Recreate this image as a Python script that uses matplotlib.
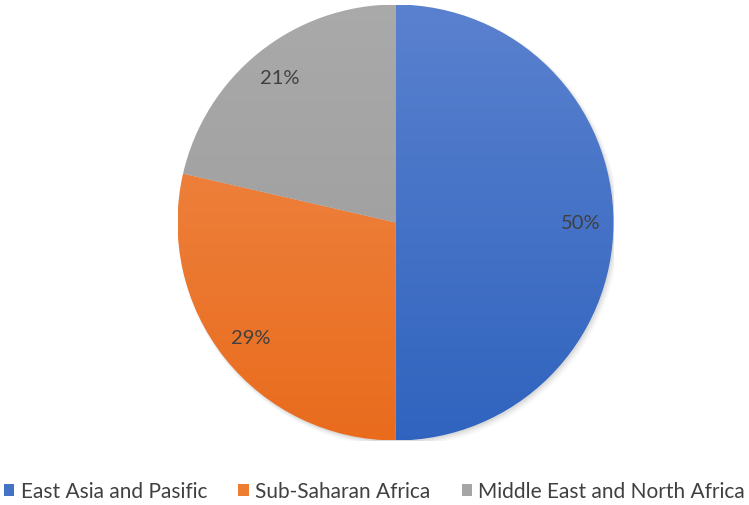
import numpy as np
import matplotlib.pyplot as plt
from matplotlib.colors import to_rgb
from matplotlib.patches import Patch

plt.rcParams['font.family'] = ['Lato', 'DejaVu Sans']

# データ
labels = ['East Asia and Pasific', 'Sub-Saharan Africa', 'Middle East and North Africa']
shares = [50, 28.6, 21.4]

# 色（上が明るく、下が暗いグラデーション）
top_colors = ['#5b82cf', '#f08c4e', '#aaaaaa']
bottom_colors = ['#2f63be', '#e96b1c', '#999999']
legend_colors = ['#4472c4', '#ed7d31', '#a5a5a5']

fig = plt.figure(figsize=(7.49, 5.06), dpi=100)

# 円の中心 (395.5, 223.5)、半径 218 px
cx, cy, r = 395.5, 223.5, 218
ax = fig.add_axes([(cx - r) / 749, (506 - cy - r) / 506, 2 * r / 749, 2 * r / 506])

wedges, texts, autotexts = ax.pie(
    shares, startangle=90, counterclock=False, autopct='%1.0f%%',
    pctdistance=0.85, colors=legend_colors,
    textprops=dict(color='#404040', fontsize=14.5))

# 縦方向のグラデーションで塗る
for w, c_top, c_bot in zip(wedges, top_colors, bottom_colors):
    w.set_facecolor('none')
    t = np.linspace(0, 1, 256)[:, None]
    grad = (1 - t) * np.array(to_rgb(c_top)) + t * np.array(to_rgb(c_bot))
    img = np.repeat(grad[:, None, :], 2, axis=1)
    im = ax.imshow(img, extent=[-1.05, 1.05, -1.05, 1.05], origin='upper',
                   aspect='auto', zorder=0.5)
    im.set_clip_path(w)

# 影
for i, a in enumerate([0.05, 0.04, 0.03, 0.02]):
    sh = plt.Circle((0.006 + 0.003 * i, -0.008 - 0.003 * i), 1.0 + 0.004 * i,
                    color='black', alpha=a, zorder=0.1, lw=0)
    ax.add_patch(sh)

ax.set_xlim(-1, 1)
ax.set_ylim(-1, 1)
ax.set_aspect('equal')
ax.axis('off')

handles = [Patch(facecolor=c, edgecolor='none') for c in legend_colors]
fig.legend(handles, labels, loc='center', bbox_to_anchor=(0.5, 1 - 492 / 506),
           ncol=3, frameon=False, fontsize=15, labelcolor='#404040',
           handlelength=0.5, handleheight=0.5, handletextpad=0.3,
           columnspacing=1.5, borderpad=0, borderaxespad=0)

fig.savefig('out.png', dpi=100)
